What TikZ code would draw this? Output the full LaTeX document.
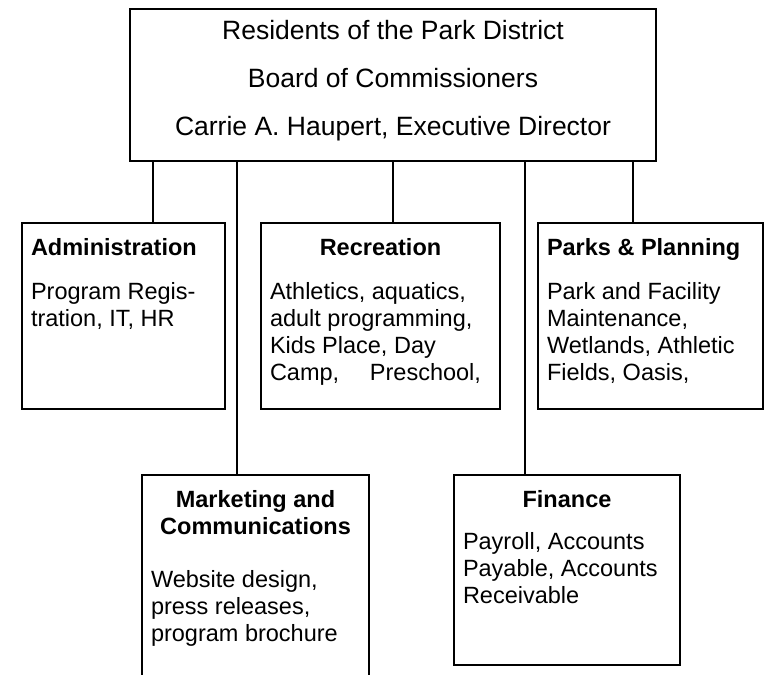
\documentclass[tikz,border=0pt]{standalone}
\usepackage{fontspec}
\setmainfont{Liberation Sans}
\usetikzlibrary{positioning, calc}

\newcommand{\deptfont}{\fontsize{23.5}{27}\selectfont}
\newcommand{\boardfont}{\fontsize{26.5}{48}\selectfont}

\begin{document}
\begin{tikzpicture}[x=1pt, y=-1pt,
    unit/.style={draw, line width=2pt, anchor=north west, inner xsep=9pt, inner ysep=0pt, font=\deptfont},
    link/.style={line width=2pt}]
    \clip (0,0) rectangle (770,674);

    % Board
    \node[unit, font=\boardfont] (board) at (129,8) {\parbox[t][152pt][t]{508pt}{\centering\rule{0pt}{31pt}Residents of the Park District\\Board of Commissioners\\Carrie A. Haupert, Executive Director}};

    % First row
    \node[unit] (admin) at (21,222) {\parbox[t][186pt][t]{185pt}{\rule{0pt}{32pt}\textbf{Administration}\\[17pt]Program Regis-\\tration, IT, HR}};
    \node[unit] (recreation) at (260,222) {\parbox[t][186pt][t]{221pt}{\centering\rule{0pt}{32pt}\textbf{Recreation}\par\vspace{17pt}\raggedright Athletics, aquatics,\\adult programming,\\Kids Place, Day\\\makebox[211pt][s]{Camp, Preschool,}}};
    \node[unit] (parks) at (537,222) {\parbox[t][186pt][t]{207pt}{\rule{0pt}{32pt}\textbf{Parks \& Planning}\\[17pt]Park and Facility\\Maintenance,\\Wetlands, Athletic\\Fields, Oasis,}};

    % Second row
    \node[unit] (marketing) at (141,474) {\parbox[t][240pt][t]{209pt}{\centering\rule{0pt}{32pt}\textbf{Marketing and}\\\textbf{Communications}\par\vspace{26pt}\raggedright Website design,\\press releases,\\program brochure}};
    \node[unit] (finance) at (453,474) {\parbox[t][190pt][t]{208pt}{\centering\rule{0pt}{32pt}\textbf{Finance}\par\vspace{15pt}\raggedright Payroll, Accounts\\Payable, Accounts\\Receivable}};

    % Links
    \draw[link] ([xshift=29.5pt]admin.north) -- ([xshift=29.5pt]admin.north |- board.south);
    \draw[link] ([xshift=-18.5pt]marketing.north) -- ([xshift=-18.5pt]marketing.north |- board.south);
    \draw[link] ([xshift=12.5pt]recreation.north) -- ([xshift=12.5pt]recreation.north |- board.south);
    \draw[link] ([xshift=-42pt]finance.north) -- ([xshift=-42pt]finance.north |- board.south);
    \draw[link] ([xshift=-17.5pt]parks.north) -- ([xshift=-17.5pt]parks.north |- board.south);
\end{tikzpicture}
\end{document}
